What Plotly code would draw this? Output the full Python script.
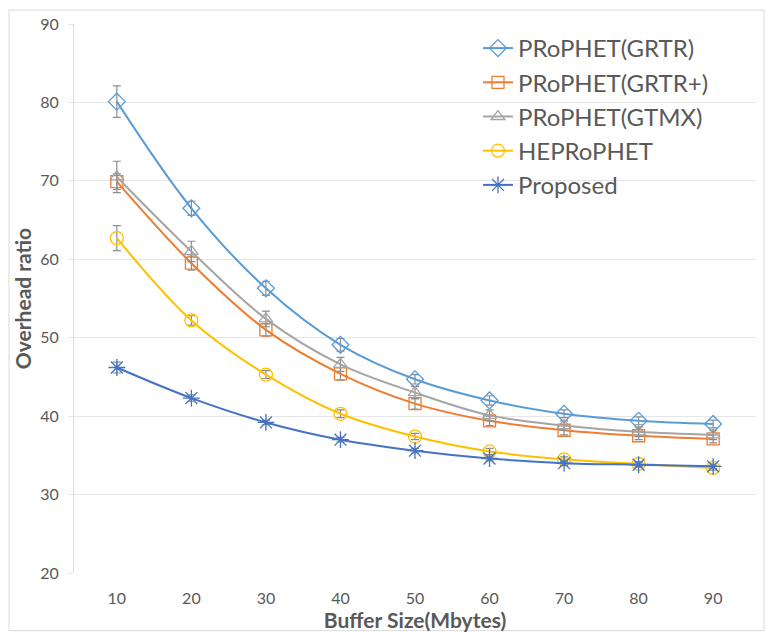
import plotly.graph_objects as go

buffer_sizes = ["10", "20", "30", "40", "50", "60", "70", "80", "90"]

grtr = [80.1, 66.5, 56.3, 49.1, 44.7, 42.0, 40.3, 39.4, 39.0]
grtr_err = [2.0, 0.9, 0.9, 0.8, 0.6, 0.6, 0.5, 0.5, 0.5]

grtr_plus = [69.9, 59.5, 51.0, 45.4, 41.6, 39.4, 38.2, 37.5, 37.1]
grtr_plus_err = [1.0, 0.9, 0.8, 0.8, 0.7, 0.6, 0.6, 0.5, 0.5]

gtmx = [70.5, 61.0, 52.4, 46.6, 43.0, 40.1, 38.8, 38.0, 37.6]
gtmx_err = [2.0, 1.3, 1.0, 0.9, 0.8, 0.7, 0.6, 0.6, 0.6]

heprophet = [62.7, 52.2, 45.3, 40.3, 37.4, 35.5, 34.5, 33.9, 33.4]
heprophet_err = [1.6, 0.6, 0.5, 0.5, 0.4, 0.4, 0.3, 0.3, 0.3]

proposed = [46.2, 42.3, 39.2, 37.0, 35.6, 34.6, 34.0, 33.8, 33.6]
proposed_err = [0.7, 0.4, 0.3, 0.3, 0.3, 0.3, 0.3, 0.3, 0.3]

series_names = ["PRoPHET(GRTR)", "PRoPHET(GRTR+)", "PRoPHET(GTMX)", "HEPRoPHET", "Proposed"]

series = [
    (series_names[0], grtr, grtr_err, "#5B9BD5", "diamond-open", 13),
    (series_names[1], grtr_plus, grtr_plus_err, "#ED7D31", "square-open", 12),
    (series_names[2], gtmx, gtmx_err, "#A5A5A5", "triangle-up-open", 12),
    (series_names[3], heprophet, heprophet_err, "#FFC000", "circle-open", 13),
    (series_names[4], proposed, proposed_err, "#4472C4", "asterisk-open", 14),
]

FONT = "Lato"
TXT = "#595959"

fig = go.Figure()
for i, (name, vals, errs, color, sym, size) in enumerate(series):
    fig.add_trace(go.Scatter(
        x=buffer_sizes, y=vals, name=name, mode="lines+markers",
        legendgroup=f"g{i}",
        line=dict(color=color, width=2, shape="spline", smoothing=1),
        marker=dict(symbol=sym, size=size, color=color, line=dict(color=color, width=1.3)),
        error_y=dict(type="data", array=errs, visible=True, color="#8C8C8C", thickness=1.2, width=4),
    ))

W, H = 765, 635
L, R, T, B = 74, 9, 24, 59
pw, ph = W - L - R, H - T - B

fig.update_layout(
    width=W, height=H,
    margin=dict(l=L, r=R, t=T, b=B),
    paper_bgcolor="white", plot_bgcolor="white",
    font=dict(family=FONT, color=TXT),
    showlegend=True,
    legend=dict(
        x=(478 - L) / pw, y=(576 - 26) / ph, xanchor="left", yanchor="top",
        font=dict(size=24, color=TXT, family=FONT),
        bgcolor="rgba(255,255,255,0)", tracegroupgap=0,
        traceorder="grouped", itemwidth=30,
    ),
    xaxis=dict(
        type="category", categoryorder="array", categoryarray=buffer_sizes,
        showgrid=False, showline=False, zeroline=False, ticks="",
        tickfont=dict(size=16, color=TXT, family=FONT),
        title=dict(text="<b>Buffer Size(Mbytes)</b>", font=dict(size=21, color=TXT, family=FONT), standoff=4),
        ticklabelstandoff=14,
    ),
    yaxis=dict(
        range=[20, 90], dtick=10, tick0=20,
        showgrid=True, gridcolor="#E6E6E6", gridwidth=1,
        showline=True, linecolor="#DDDDDD", linewidth=1,
        zeroline=False, ticks="outside", ticklen=5, tickcolor="#E6E6E6",
        tickfont=dict(size=16, color=TXT, family=FONT),
        ticklabelstandoff=6,
        title=dict(text="<b>Overhead ratio</b>", font=dict(size=21, color=TXT, family=FONT), standoff=2),
    ),
    shapes=[dict(
        type="rect", xref="paper", yref="paper",
        x0=(9 - L) / pw, x1=(764 - L) / pw,
        y0=(576 - 634) / ph, y1=(576 - 10) / ph,
        line=dict(color="#D9D9D9", width=1), fillcolor="rgba(0,0,0,0)", layer="below",
    )],
)

fig.write_html(
    "out.html",
    config={"displayModeBar": False},
    post_script="document.body.style.margin='0';document.body.style.padding='0';document.body.style.overflow='hidden';",
)
